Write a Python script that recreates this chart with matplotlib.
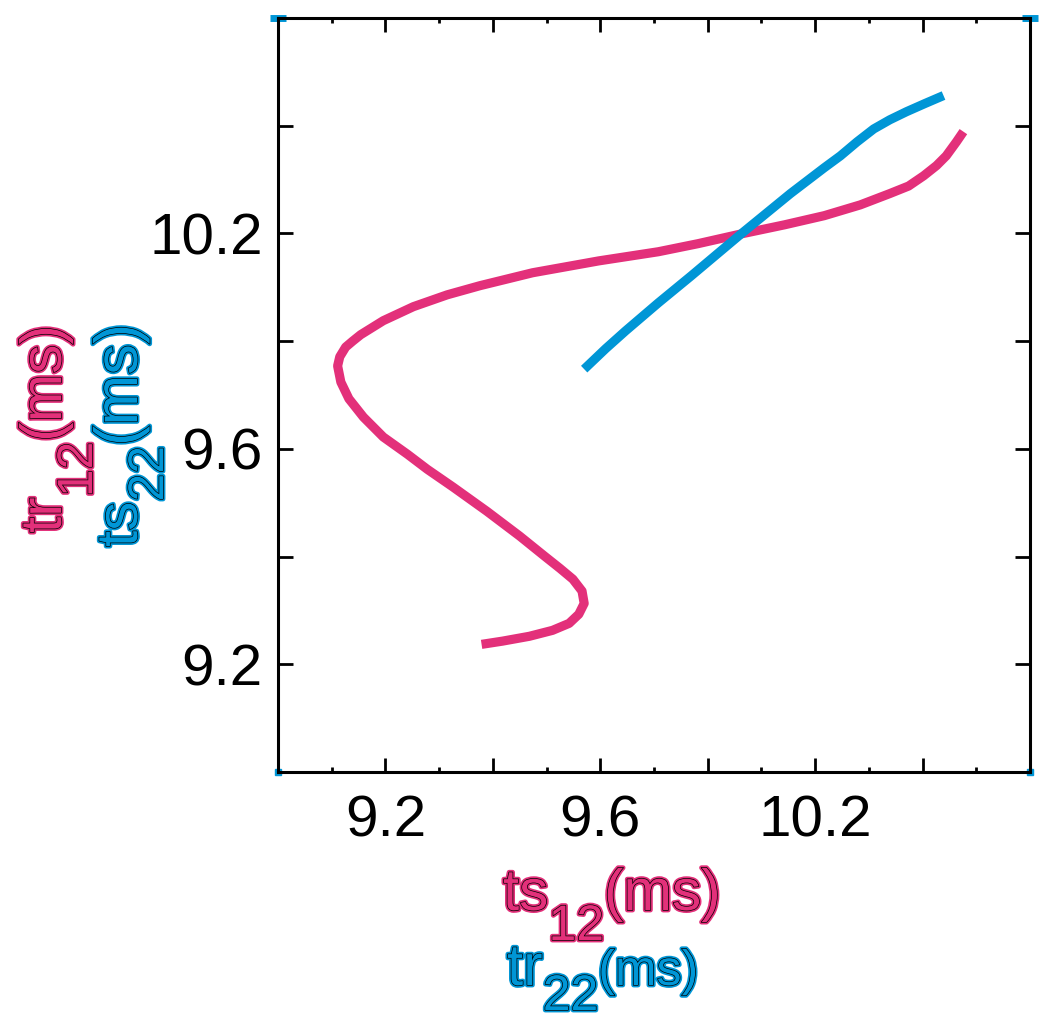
import matplotlib
matplotlib.use('Agg')
import matplotlib.pyplot as plt
import matplotlib.patheffects as pe
from matplotlib.transforms import IdentityTransform
import numpy as np

plt.rcParams['font.family'] = ['Liberation Sans', 'DejaVu Sans']

pink = '#E3307A'
blue = '#0096D6'

# magenta curve: ts12 (x) vs tr12 (y)
ts12 = [9.379, 9.418, 9.468, 9.511, 9.542, 9.560, 9.570, 9.566, 9.549, 9.525,
        9.496, 9.450, 9.389, 9.326, 9.278, 9.241, 9.196, 9.159, 9.132, 9.117,
        9.111, 9.115, 9.126, 9.139, 9.154, 9.196, 9.252, 9.315, 9.376, 9.474,
        9.597, 9.708, 9.782, 9.862, 9.943, 10.017, 10.084, 10.139, 10.174, 10.202,
        10.226, 10.244, 10.263, 10.276]
tr12 = [9.237, 9.243, 9.252, 9.263, 9.276, 9.293, 9.313, 9.336, 9.358, 9.378,
        9.401, 9.438, 9.484, 9.529, 9.562, 9.590, 9.622, 9.659, 9.693, 9.724,
        9.754, 9.771, 9.789, 9.800, 9.812, 9.838, 9.864, 9.886, 9.903, 9.927,
        9.949, 9.966, 9.981, 9.999, 10.016, 10.033, 10.053, 10.074, 10.088, 10.107,
        10.126, 10.144, 10.170, 10.189]

# blue curve: tr22 (x) vs ts22 (y)
tr22 = [9.570, 9.610, 9.647, 9.708, 9.769, 9.862, 9.954, 10.017, 10.047, 10.078,
        10.109, 10.139, 10.170, 10.204, 10.239]
ts22 = [9.748, 9.786, 9.819, 9.871, 9.921, 9.999, 10.074, 10.122, 10.144, 10.170,
        10.194, 10.211, 10.226, 10.241, 10.256]

major = [9.2, 9.4, 9.6, 9.8, 10.0, 10.2]
minor = [9.1, 9.3, 9.5, 9.7, 9.9, 10.1, 10.3]
tick_labels = ['9.2', '', '9.6', '', '10.2', '']

W, H = 1050, 1026
fig = plt.figure(figsize=(W/100, H/100), dpi=100)
ax = fig.add_axes([278/W, 1-772/H, (1030-278)/W, (772-18)/H])

ax.plot(ts12, tr12, color=pink, lw=6.6, solid_capstyle='butt', solid_joinstyle='round')
ax.plot(tr22, ts22, color=blue, lw=6.6, solid_capstyle='butt', solid_joinstyle='round')

ax.set_xlim(9.0, 10.4)
ax.set_ylim(9.0, 10.4)

ax.set_xticks(major)
ax.set_xticklabels(tick_labels)
ax.set_xticks(minor, minor=True)
ax.set_yticks(major)
ax.set_yticklabels(tick_labels)

ax.tick_params(axis='x', which='major', direction='in', top=True, length=10, width=2,
               labelsize=42, pad=16)
ax.tick_params(axis='x', which='minor', direction='in', top=True, length=3.8, width=2)
ax.tick_params(axis='y', which='major', direction='in', right=True, length=11, width=2,
               labelsize=42, pad=11)
for s in ax.spines.values():
    s.set_linewidth(2.2)

# small blue marks at the corners
ax.plot([0, 1], [1, 1], ls='none', marker='_', ms=11, mew=5, color=blue,
        transform=ax.transAxes, clip_on=False, zorder=0)
ax.plot([0, 1], [0, 0], ls='none', marker='s', ms=4, color=blue,
        transform=ax.transAxes, clip_on=False, zorder=0)

renderer = fig.canvas.get_renderer()


def rich_label(x0, y0, pieces, color, rot=0):
    # pieces: (text, fontsize, drop in px); (x0, y0) = baseline start, px from top-left
    effects = [pe.Stroke(linewidth=3.5, foreground=color),
               pe.Stroke(linewidth=1.0, foreground='black'), pe.Normal()]
    a = np.deg2rad(rot)
    ux, uy = np.cos(a), np.sin(a)
    nx, ny = np.sin(a), -np.cos(a)
    px, py = x0, H - y0
    for s, size, drop in pieces:
        tmp = fig.text(0, 0, s, fontsize=size)
        w = tmp.get_window_extent(renderer).width
        tmp.remove()
        fig.text(px + nx*drop, py + ny*drop, s, fontsize=size, color=color,
                 rotation=rot, rotation_mode='anchor', ha='left', va='baseline',
                 transform=IdentityTransform(), path_effects=effects)
        px += ux*w
        py += uy*w


rich_label(503, 910, [('ts', 42, 0), ('12', 36, 30), ('(ms)', 42, 0)], pink)
rich_label(507, 985, [('tr', 42, 0), ('22', 36, 25), ('(ms)', 36, 0)], blue)
rich_label(61, 533, [('tr', 42, 0), ('12', 36, 31), ('(ms)', 42, 0)], pink, rot=90)
rich_label(137, 547, [('ts', 42, 0), ('22', 36, 26), ('(ms)', 44, 0)], blue, rot=90)

fig.savefig('out.png', dpi=100)
